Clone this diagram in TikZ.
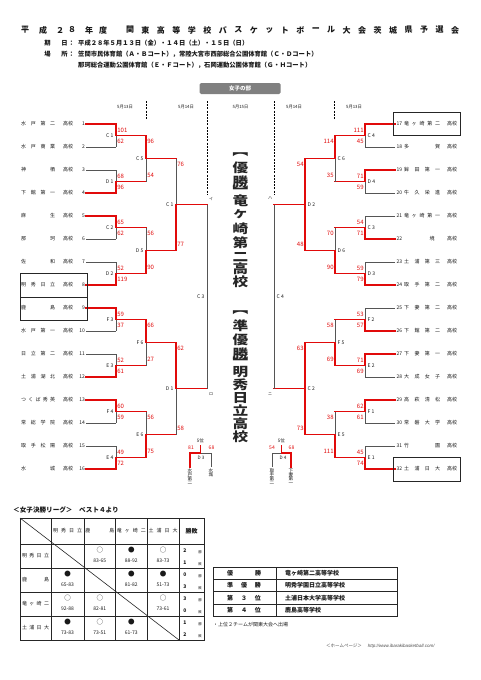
\documentclass[tikz,border=0pt]{standalone}
\usepackage{fontspec}
\setmainfont{Noto Sans CJK JP}
\newfontfamily\latf{Liberation Sans}
\definecolor{rd}{RGB}{225,10,10}
\definecolor{gl}{RGB}{85,85,85}
\definecolor{tx}{RGB}{25,25,25}
\newcommand\fs[1]{\fontsize{#1}{#1}\selectfont}
\newcommand\jb[2]{\makebox[#1]{#2}}
% left match: x, xnext, ytop, ybot, label, s1, s2, winner
\newcommand\lmatch[8]{%
  \pgfmathsetmacro\ym{(#3+#4)/2}%
  \draw[gline] (#1,#3) -- (#1,#4);%
  \ifnum#8=1\relax\draw[rline] (#1,#3) -- (#1,\ym) -- (#2,\ym);\else\draw[rline] (#1,#4) -- (#1,\ym) -- (#2,\ym);\fi
  \node[ml,anchor=east] at (#1-2.5,\ym) {#5};%
  \node[sc,anchor=west] at (#1+1.2,#3+6) {#6};%
  \node[sc,anchor=west] at (#1+1.2,#4-6) {#7};%
}
\newcommand\rmatch[8]{%
  \pgfmathsetmacro\ym{(#3+#4)/2}%
  \draw[gline] (#1,#3) -- (#1,#4);%
  \ifnum#8=1\relax\draw[rline] (#1,#3) -- (#1,\ym) -- (#2,\ym);\else\draw[rline] (#1,#4) -- (#1,\ym) -- (#2,\ym);\fi
  \node[ml,anchor=west] at (#1+2.5,\ym) {#5};%
  \node[sc,anchor=east] at (#1-1.2,#3+6) {#6};%
  \node[sc,anchor=east] at (#1-1.2,#4-6) {#7};%
}
\begin{document}
\begin{tikzpicture}[x=1pt,y=-1pt,
  gline/.style={draw=gl,line width=0.6pt},
  rline/.style={draw=rd,line width=1.3pt,line cap=rect},
  tl/.style={draw=black!85,line width=0.6pt},
  tn/.style={inner sep=0,font=\fs{5},text=tx},
  ml/.style={inner sep=0,font=\fs{5},text=tx},
  sc/.style={inner sep=0,font=\fs{6},text=rd},
  dt/.style={inner sep=0,font=\fs{4.3},text=tx},
  tt/.style={inner sep=0,font=\bfseries\fs{8},text=tx},
  hd/.style={inner sep=0,font=\bfseries\fs{6.3},text=tx},
  bigc/.style={inner sep=0,font=\bfseries\fs{12.5},text=black!85},
  vt/.style={inner sep=0,font=\fs{4.6},text=tx,align=center},
  cell/.style={inner sep=0,font=\fs{5},text=tx},
  sym/.style={inner sep=0,font=\fs{6.5},text=tx},
  rt/.style={inner sep=0,font=\bfseries\fs{6},text=tx}]
\useasboundingbox (0,0) rectangle (481,680);
\fill[white] (0,0) rectangle (481,680);

% ---------- header ----------
\foreach \c/\xx [count=\i] in {平/25,成/43,２/60,８/72,年/89,度/103}
  \node[tt] (ta\i) at (\xx,30) {\c};
\foreach \c [count=\i from 0] in {関,東,高,等,学,校,バ,ス,ケ,ッ,ト,ボ,ー,ル,大,会,茨,城,県,予,選,会}
  \node[tt] (tb\i) at ({130+15.48*\i},30) {\c};
\node[hd] (k1) at (47.5,43) {期};
\node[hd] (k2) at (64.5,43) {日};
\node[hd] (k3) at (71.5,43) {：};
\node[hd,anchor=west] (k4) at (78,43) {平成２８年５月１３日（金）・１４日（土）・１５日（日）};
\node[hd] (b1) at (47.5,54) {場};
\node[hd] (b2) at (64.5,54) {所};
\node[hd] (b3) at (71.5,54) {：};
\node[hd,anchor=west] (b4) at (78,54) {笠間市民体育館（Ａ・Ｂコート），常陸大宮市西部総合公園体育館（Ｃ・Ｄコート）};
\node[hd,anchor=west] (b5) at (78,65) {那珂総合運動公園体育館（Ｅ・Ｆコート），石岡運動公園体育館（Ｇ・Ｈコート）};

% ---------- section label ----------
\node[fill=black!50,rounded corners=1.5pt,minimum width=81pt,minimum height=11pt,inner sep=0,
  text=white,font=\bfseries\fs{5.5}] (sec) at (240,88.5) {女子の部};

% dates and dashed separators
\node[dt] (d1) at (125,107) {5月13日};
\node[dt] (d2) at (186,107) {5月14日};
\node[dt] (d3) at (240.5,107) {5月15日};
\node[dt] (d4) at (294,107) {5月14日};
\node[dt] (d5) at (354,107) {5月13日};
\draw[black,line width=0.9pt,dash pattern=on 2pt off 1.2pt] (146.5,101) -- (146.5,119);
\draw[black,line width=0.9pt,dash pattern=on 2pt off 1.2pt] (207,101) -- (207,195);
\draw[black,line width=0.9pt,dash pattern=on 2pt off 1.2pt] (274,101) -- (274,195);
\draw[black,line width=0.9pt,dash pattern=on 2pt off 1.2pt] (334.5,101) -- (334.5,119);

% ---------- left teams ----------
\foreach \n/\nm in {1/{水\hfill 戸\hfill 第\hfill 二},2/{水\hfill 戸\hfill 商\hfill 業},3/{神\hfill 栖},
  4/{下\hfill 館\hfill 第\hfill 一},5/{麻\hfill 生},6/{那\hfill 珂},7/{佐\hfill 和},
  8/{明\hfill 秀\hfill 日\hfill 立},9/{鹿\hfill 島},10/{水\hfill 戸\hfill 第\hfill 一},
  11/{日\hfill 立\hfill 第\hfill 二},12/{土\hfill 浦\hfill 湖\hfill 北},
  13/{つ\hfill く\hfill ば\hfill 秀\hfill 英},14/{常\hfill 総\hfill 学\hfill 院},
  15/{取\hfill 手\hfill 松\hfill 陽},16/{水\hfill 城}}{
  \pgfmathsetmacro\yy{124+23*(\n-1)}
  \node[tn,anchor=west] (ln\n) at (21,\yy) {\jb{34pt}{\nm}};
  \node[tn] (lk\n) at (68,\yy) {高校};
  \node[tn,anchor=east] (lnum\n) at (85,\yy) {\n};
  \coordinate (lt\n) at (86,\yy);
  \coordinate (lv\n) at (116,\yy);
}
\foreach \n in {2,3,6,7,10,11,14,15} \draw[gline] (lt\n) -- (lv\n);
\foreach \n in {1,4,5,8,9,12,13,16} \draw[rline] (lt\n) -- (lv\n);
\draw[tl] (20,273.5) rectangle (87,320.5);
\draw[tl] (20,297) -- (87,297);

% ---------- right teams ----------
\foreach \n/\nm in {17/{竜\hfill ヶ\hfill 崎\hfill 第\hfill 二},18/{多\hfill 賀},19/{鉾\hfill 田\hfill 第\hfill 一},
  20/{牛\hfill 久\hfill 栄\hfill 進},21/{竜\hfill ヶ\hfill 崎\hfill 第\hfill 一},22/{\hspace*{25.5pt}境\hfill},
  23/{土\hfill 浦\hfill 第\hfill 三},24/{取\hfill 手\hfill 第\hfill 二},25/{下\hfill 妻\hfill 第\hfill 二},
  26/{下\hfill 館\hfill 第\hfill 二},27/{下\hfill 妻\hfill 第\hfill 一},28/{大\hfill 成\hfill 女\hfill 子},
  29/{高\hfill 萩\hfill 清\hfill 松},30/{常\hfill 磐\hfill 大\hfill 学},31/{竹\hfill 園},
  32/{土\hfill 浦\hfill 日\hfill 大}}{
  \pgfmathsetmacro\yy{124+23*(\n-17)}
  \node[tn,anchor=west] (rnum\n) at (396.5,\yy) {\n};
  \node[tn,anchor=west] (rn\n) at (404,\yy) {\jb{36pt}{\nm}};
  \node[tn] (rk\n) at (452,\yy) {高校};
  \coordinate (rt\n) at (395,\yy);
  \coordinate (rv\n) at (365,\yy);
}
\foreach \n in {18,20,21,23,25,28,30,31} \draw[gline] (rt\n) -- (rv\n);
\foreach \n in {17,19,22,24,26,27,29,32} \draw[rline] (rt\n) -- (rv\n);
\draw[tl] (393.5,112.5) rectangle (460,135.5);
\draw[tl] (393.5,457.5) rectangle (460,481);

% ---------- left bracket ----------
\lmatch{116}{146}{124}{147}{C 1}{101}{62}{1}
\lmatch{116}{146}{170}{193}{D 1}{68}{96}{2}
\lmatch{116}{146}{216}{239}{C 2}{65}{62}{1}
\lmatch{116}{146}{262}{285}{D 2}{52}{119}{2}
\lmatch{116}{146}{308}{331}{F 3}{59}{37}{1}
\lmatch{116}{146}{354}{377}{E 3}{52}{61}{2}
\lmatch{116}{146}{400}{423}{F 4}{60}{59}{1}
\lmatch{116}{146}{446}{469}{E 4}{49}{72}{2}
\lmatch{146}{176}{135.5}{181.5}{C 5}{96}{54}{1}
\lmatch{146}{176}{227.5}{273.5}{D 5}{56}{90}{2}
\lmatch{146}{176}{319.5}{365.5}{F 6}{66}{27}{1}
\lmatch{146}{176}{411.5}{457.5}{E 6}{56}{75}{2}
\lmatch{176}{207}{158.5}{250.5}{C 1}{76}{77}{2}
\lmatch{176}{207}{342.5}{434.5}{D 1}{62}{58}{1}
\draw[gline] (207,204.5) -- (207,388.5);
\node[ml,anchor=east] (c3l) at (204.5,296.5) {C 3};
\node[inner sep=0,font=\fs{4},text=tx] (mi) at (211,198.5) {イ};
\node[inner sep=0,font=\fs{4},text=tx] (mro) at (211,394) {ロ};

% ---------- right bracket ----------
\rmatch{365}{335}{124}{147}{C 4}{111}{45}{1}
\rmatch{365}{335}{170}{193}{D 4}{71}{59}{1}
\rmatch{365}{335}{216}{239}{C 3}{54}{71}{2}
\rmatch{365}{335}{262}{285}{D 3}{59}{79}{2}
\rmatch{365}{335}{308}{331}{F 2}{53}{57}{2}
\rmatch{365}{335}{354}{377}{E 2}{71}{69}{1}
\rmatch{365}{335}{400}{423}{F 1}{62}{61}{1}
\rmatch{365}{335}{446}{469}{E 1}{45}{74}{2}
\rmatch{335}{305}{135.5}{181.5}{C 6}{114}{35}{1}
\rmatch{335}{305}{227.5}{273.5}{D 6}{70}{90}{2}
\rmatch{335}{305}{319.5}{365.5}{F 5}{58}{69}{2}
\rmatch{335}{305}{411.5}{457.5}{E 5}{38}{111}{2}
\rmatch{305}{274}{158.5}{250.5}{D 2}{54}{48}{1}
\rmatch{305}{274}{342.5}{434.5}{C 2}{63}{73}{2}
\draw[rline] (305,158.5) -- (305,250.5);
\draw[rline] (305,342.5) -- (305,434.5);
\draw[gline] (274,204.5) -- (274,388.5);
\node[ml,anchor=west] (c4r) at (276.5,296.5) {C 4};
\node[inner sep=0,font=\fs{4},text=tx] (mha) at (270,198.5) {ハ};
\node[inner sep=0,font=\fs{4},text=tx] (mni) at (270,394) {ニ};

% ---------- 5th place matches ----------
\coordinate (p3s) at (200.5,446); \coordinate (p3m) at (200.5,453);
\coordinate (p3a) at (190,453); \coordinate (p3b) at (211,453);
\coordinate (p3a2) at (190,467); \coordinate (p3b2) at (211,467);
\draw[gline] (p3m) -- (p3b) -- (p3b2);
\draw[rline,line width=1.1pt] (p3a2) -- (p3a) -- (p3m) -- (p3s);
\node[inner sep=0,font=\fs{4.6},text=tx] (p3t) at (200.5,440.5) {5位};
\node[sc,font=\fs{5}] (p3x) at (191,448) {81};
\node[sc,font=\fs{5}] (p3y) at (211.5,448) {68};
\node[ml,font=\fs{4.6}] (p3l) at (201,457.5) {D 3};
\node[vt,anchor=north] (p3n1) at (190,468) {水\\[-0.6pt]戸\\[-0.6pt]第\\[-0.6pt]二};
\node[vt,anchor=north] (p3n2) at (211,468) {水\\[-0.6pt]城};

\coordinate (p4s) at (281.5,446); \coordinate (p4m) at (281.5,453);
\coordinate (p4a) at (272,453); \coordinate (p4b) at (291,453);
\coordinate (p4a2) at (272,467); \coordinate (p4b2) at (291,467);
\draw[gline] (p4m) -- (p4a) -- (p4a2);
\draw[rline,line width=1.1pt] (p4b2) -- (p4b) -- (p4m) -- (p4s);
\node[inner sep=0,font=\fs{4.6},text=tx] (p4t) at (281.5,440.5) {5位};
\node[sc,font=\fs{5}] (p4x) at (272,448) {54};
\node[sc,font=\fs{5}] (p4y) at (291.5,448) {68};
\node[ml,font=\fs{4.6}] (p4l) at (283,457.5) {D 4};
\node[vt,anchor=north] (p4n1) at (272,469) {取\\[-0.6pt]手\\[-0.6pt]第\\[-0.6pt]二};
\node[vt,anchor=north] (p4n2) at (291,469) {下\\[-0.6pt]妻\\[-0.6pt]第\\[-0.6pt]一};

% ---------- center vertical texts ----------
\foreach \c/\yy [count=\i] in {︻/155,優/167.3,勝/181.7,︼/190.7,竜/200.3,ヶ/214,崎/228.3,第/242.3,二/256.7,高/269,校/281.7}
  \node[bigc] (va\i) at (240.5,\yy) {\scalebox{1.25}[1]{\c}};
\foreach \c/\yy [count=\i] in {︻/313,準/325.5,優/339.5,勝/353.5,︼/362.5,明/372,秀/385,日/398,立/411,高/424,校/437}
  \node[bigc] (vb\i) at (240.5,\yy) {\scalebox{1.25}[1]{\c}};

% ---------- league table ----------
\node[inner sep=0,font=\bfseries\fs{6.6},text=tx,anchor=west] (lg) at (13,510) {＜女子決勝リーグ＞　ベスト４より};
\draw[tl] (20,518) rectangle (204,640);
\foreach \xx in {51,84,115.5,147,179} \draw[tl] (\xx,518) -- (\xx,640);
\foreach \yy in {544,568,592,616} \draw[tl] (20,\yy) -- (204,\yy);
\draw[tl] (20,518) -- (179,640);
\foreach \nm/\xx [count=\i] in {{明\hfill 秀\hfill 日\hfill 立}/67.5,{鹿\hfill 島}/99.75,{竜\hfill ヶ\hfill 崎\hfill 二}/131.25,{土\hfill 浦\hfill 日\hfill 大}/163}
  \node[cell] (ch\i) at (\xx,531) {\jb{29pt}{\nm}};
\node[inner sep=0,font=\bfseries\fs{6},text=tx] (chw) at (191.5,531) {勝敗};
\foreach \nm/\yy [count=\i] in {{明\hfill 秀\hfill 日\hfill 立}/556,{鹿\hfill 島}/580,{竜\hfill ヶ\hfill 崎\hfill 二}/604,{土\hfill 浦\hfill 日\hfill 大}/628}
  \node[cell] (rh\i) at (35.5,\yy) {\jb{27pt}{\nm}};
% cells: row top y, column center x, symbol, score
\foreach \yy/\xx/\s/\sc [count=\i] in {
  544/99.75/○/83-65, 544/131.25/●/88-92, 544/163/○/83-73,
  568/67.5/●/65-83, 568/131.25/●/81-82, 568/163/●/51-73,
  592/67.5/○/92-88, 592/99.75/○/82-81, 592/163/○/73-61,
  616/67.5/●/73-83, 616/99.75/○/73-51, 616/131.25/●/61-73}{
  \node[sym] (cs\i) at (\xx,\yy+6.5) {\s};
  \node[cell] (cv\i) at (\xx,\yy+16.5) {\sc};
}
\foreach \yy/\w/\l [count=\i] in {544/2/1,568/0/3,592/3/0,616/1/2}{
  \node[inner sep=0,font=\bfseries\fs{5},text=tx] (w\i) at (185,\yy+7) {\w};
  \node[inner sep=0,font=\bfseries\fs{5},text=tx] (l\i) at (185,\yy+18.5) {\l};
  \node[inner sep=0,font=\fs{3.4},text=tx] (wk\i) at (200,\yy+8) {勝};
  \node[inner sep=0,font=\fs{3.4},text=tx] (lk\i) at (200,\yy+20) {敗};
}

% ---------- result table ----------
\draw[tl,line width=0.8pt] (213,567) rectangle (397,616.2);
\foreach \yy in {579.3,591.6,603.9} \draw[tl,line width=0.8pt] (213,\yy) -- (397,\yy);
\draw[tl,line width=0.8pt] (276.7,567) -- (276.7,616.2);
\foreach \a/\b/\yy [count=\i] in {{優\hfill 勝}/竜ヶ崎第二高等学校/573.2,{準\hfill 優\hfill 勝}/明秀学園日立高等学校/585.5,
  {第\hfill ３\hfill 位}/土浦日本大学高等学校/597.8,{第\hfill ４\hfill 位}/鹿島高等学校/610.1}{
  \node[rt] (ra\i) at (244,\yy) {\jb{34pt}{\a}};
  \node[rt,anchor=west] (rb\i) at (285,\yy) {\b};
}
\node[inner sep=0,font=\fs{5},text=tx,anchor=west] (note) at (213,625) {・上位２チームが関東大会へ出場};
\node[inner sep=0,font=\fs{4.5},text=black!70,anchor=west] (foot) at (326,646) {＜ホームページ＞\hspace{6pt}{\latf\itshape http://www.ibarakibasketball.com/}};
\end{tikzpicture}
\end{document}
